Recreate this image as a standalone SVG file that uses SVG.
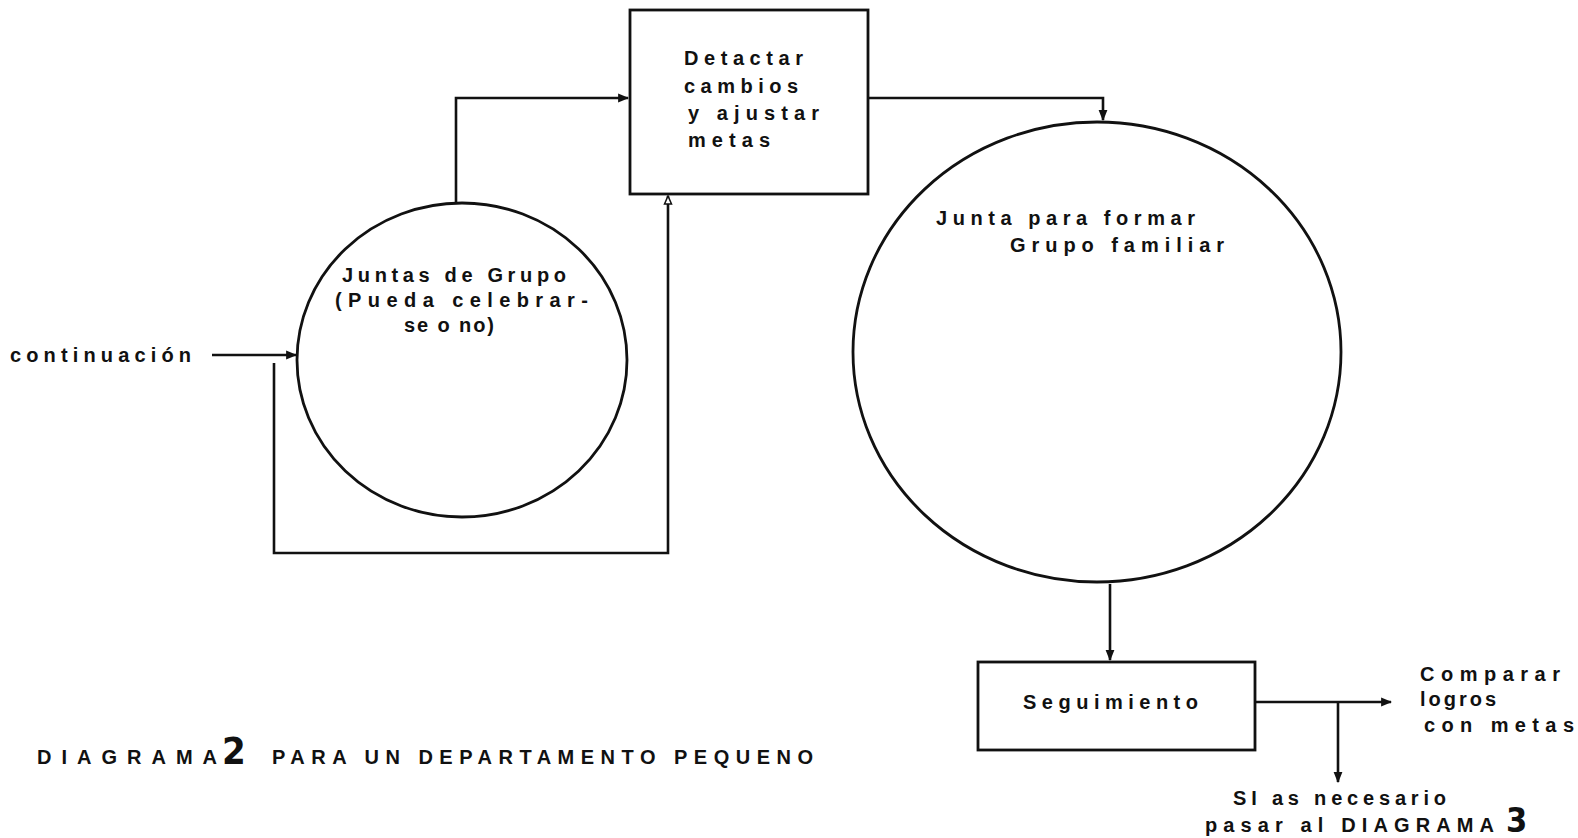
<svg xmlns="http://www.w3.org/2000/svg" width="1578" height="838" viewBox="0 0 1578 838">
<style>
.ln{fill:none;stroke:#111;stroke-width:2.6}
.sh{fill:#fff;stroke:#111;stroke-width:2.8}
.t{font-family:"Liberation Sans",Arial,sans-serif;font-weight:bold;font-size:20px;fill:#111}
.cap{font-family:"Liberation Sans",Arial,sans-serif;font-weight:bold;font-size:20px;fill:#111}
.big{font-family:"DejaVu Sans Condensed","DejaVu Sans",sans-serif;font-weight:bold;fill:#111}
</style>
<defs>
<marker id="ah" viewBox="0 0 10 10" refX="9" refY="5" markerWidth="11" markerHeight="11" markerUnits="userSpaceOnUse" orient="auto">
<path d="M0,1 L10,5 L0,9 Z" fill="#111"/>
</marker>
<marker id="ao" viewBox="0 0 10 10" refX="9" refY="5" markerWidth="10" markerHeight="10" markerUnits="userSpaceOnUse" orient="auto">
<path d="M1,1.5 L9,5 L1,8.5 Z" fill="#fff" stroke="#111" stroke-width="1.5"/>
</marker>
</defs>
<rect width="1578" height="838" fill="#fff"/>
<g id="connectors">
<path class="ln" d="M456,202 V98 H628" marker-end="url(#ah)"/>
<path class="ln" d="M868,98 H1103 V120" marker-end="url(#ah)"/>
<path class="ln" d="M212,355 H296" marker-end="url(#ah)"/>
<path class="ln" d="M274,363 V553 H668 V196" marker-end="url(#ao)"/>
<path class="ln" d="M1110,584 V660" marker-end="url(#ah)"/>
<path class="ln" d="M1255,702 H1391" marker-end="url(#ah)"/>
<path class="ln" d="M1338,702 V782" marker-end="url(#ah)"/>
</g>
<g id="node-detectar">
<rect class="sh" x="630" y="10" width="238" height="184"/>
<text class="t" x="684" y="65" textLength="119" lengthAdjust="spacing">Detactar</text>
<text class="t" x="684" y="93" textLength="114" lengthAdjust="spacing">cambios</text>
<text class="t" x="688" y="120" textLength="131" lengthAdjust="spacing">y ajustar</text>
<text class="t" x="688" y="147" textLength="82" lengthAdjust="spacing">metas</text>
</g>
<g id="node-juntas">
<ellipse class="sh" cx="462" cy="360" rx="165" ry="157"/>
<text class="t" x="342" y="282" textLength="224" lengthAdjust="spacing">Juntas de Grupo</text>
<text class="t" x="335" y="307" textLength="253" lengthAdjust="spacing">(Pueda celebrar-</text>
<text class="t" x="404" y="332" textLength="90" lengthAdjust="spacing">se o no)</text>
</g>
<g id="node-continuacion">
<text class="t" x="10" y="362" textLength="181" lengthAdjust="spacing">continuación</text>
</g>
<g id="node-junta-familiar">
<ellipse class="sh" cx="1097" cy="352" rx="244" ry="230"/>
<text class="t" x="936" y="225" textLength="259" lengthAdjust="spacing">Junta para formar</text>
<text class="t" x="1010" y="252" textLength="214" lengthAdjust="spacing">Grupo familiar</text>
</g>
<g id="node-seguimiento">
<rect class="sh" x="978" y="662" width="277" height="88"/>
<text class="t" x="1023" y="709" textLength="175" lengthAdjust="spacing">Seguimiento</text>
</g>
<g id="node-comparar">
<text class="t" x="1420" y="681" textLength="140" lengthAdjust="spacing">Comparar</text>
<text class="t" x="1420" y="706" textLength="76" lengthAdjust="spacing">logros</text>
<text class="t" x="1424" y="732" textLength="150" lengthAdjust="spacing">con metas</text>
</g>
<g id="node-diagrama3">
<text class="t" x="1233" y="805" textLength="213" lengthAdjust="spacing">SI as necesario</text>
<text class="t" x="1205" y="832" textLength="289" lengthAdjust="spacing">pasar al DIAGRAMA</text>
<text class="big" x="1506" y="832" font-size="34">3</text>
</g>
<g id="caption">
<text class="cap" x="37" y="764" textLength="180" lengthAdjust="spacing">DIAGRAMA</text>
<text class="big" x="222" y="764" font-size="38">2</text>
<text class="cap" x="272" y="764" textLength="541" lengthAdjust="spacing">PARA UN DEPARTAMENTO PEQUENO</text>
</g>
</svg>
